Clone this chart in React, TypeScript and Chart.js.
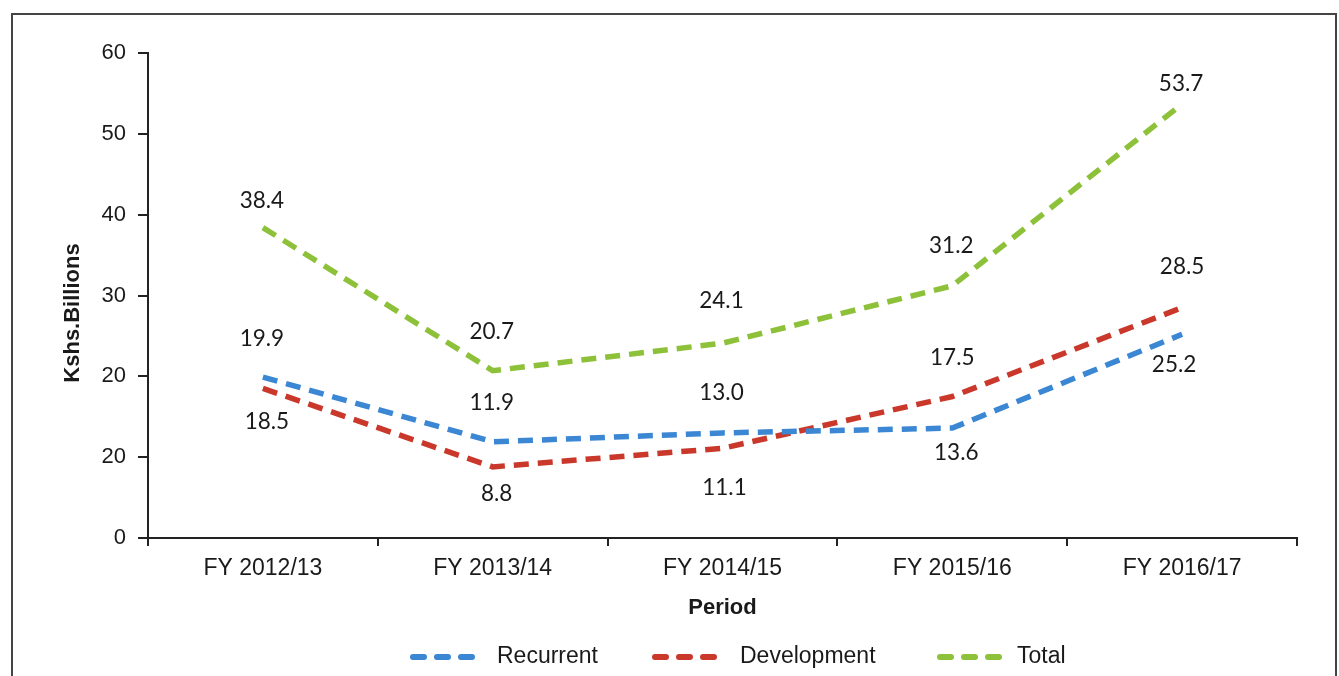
import React, { useEffect, useRef } from "react";
import { Chart, registerables } from "chart.js";

Chart.register(...registerables);

const categories = ["FY 2012/13", "FY 2013/14", "FY 2014/15", "FY 2015/16", "FY 2016/17"];
const recurrent = [19.9, 11.9, 13.0, 13.6, 25.2];
const development = [18.5, 8.8, 11.1, 17.5, 28.5];
const total = [38.4, 20.7, 24.1, 31.2, 53.7];
const yTickLabels = ["0", "20", "20", "30", "40", "50", "60"];

const BLUE = "#3B87D4";
const RED = "#C9382A";
const GREEN = "#8EC13A";
const TEXT = "#1a1a1a";
const AXIS = "#222222";

const decorPlugin = {
  id: "decor",
  beforeDraw(chart: any) {
    const ctx = chart.ctx;
    ctx.save();
    ctx.fillStyle = "#ffffff";
    ctx.fillRect(0, 0, chart.width, chart.height);
    ctx.strokeStyle = "#444444";
    ctx.lineWidth = 2;
    ctx.beginPath();
    ctx.moveTo(12, chart.height + 5);
    ctx.lineTo(12, 14);
    ctx.lineTo(1336, 14);
    ctx.lineTo(1336, chart.height + 5);
    ctx.stroke();
    ctx.restore();
  },
  afterDatasetsDraw(chart: any) {
    const ctx = chart.ctx;
    ctx.save();
    ctx.font = "22.5px Lato, 'Open Sans', sans-serif";
    ctx.fillStyle = TEXT;
    ctx.textAlign = "center";
    ctx.textBaseline = "middle";
    chart.data.datasets.forEach((ds: any, di: number) => {
      const meta = chart.getDatasetMeta(di);
      meta.data.forEach((pt: any, i: number) => {
        const off = ds.labelOffsets[i];
        const v = ds.data[i] as number;
        ctx.fillText(v.toFixed(1), pt.x + off[0], pt.y + off[1]);
      });
    });
    ctx.restore();
  },
  afterDraw(chart: any) {
    const ctx = chart.ctx;
    const area = chart.chartArea;
    ctx.save();
    ctx.fillStyle = TEXT;
    ctx.font = "bold 22px 'Liberation Sans', Arial, sans-serif";
    ctx.textAlign = "center";
    ctx.textBaseline = "middle";
    ctx.fillText("Period", (area.left + area.right) / 2, 608);
    ctx.save();
    ctx.translate(73, 313);
    ctx.rotate(-Math.PI / 2);
    ctx.fillText("Kshs.Billions", 0, 0);
    ctx.restore();

    // legend
    const items = [
      { x: 410, tx: 497 },
      { x: 652, tx: 740 },
      { x: 937, tx: 1017 },
    ];
    const ly = 657;
    chart.data.datasets.forEach((ds: any, i: number) => {
      const it = items[i];
      ctx.strokeStyle = ds.borderColor;
      ctx.lineWidth = 6;
      ctx.lineCap = "round";
      ctx.setLineDash([11, 13]);
      ctx.beginPath();
      ctx.moveTo(it.x + 3, ly);
      ctx.lineTo(it.x + 63, ly);
      ctx.stroke();
      ctx.setLineDash([]);
      ctx.fillStyle = TEXT;
      ctx.font = "23px 'Liberation Sans', Arial, sans-serif";
      ctx.textAlign = "left";
      ctx.textBaseline = "middle";
      ctx.fillText(ds.label, it.tx, ly);
    });
    ctx.restore();
  },
};

export default function App() {
  const ref = useRef<HTMLCanvasElement | null>(null);
  useEffect(() => {
    if (!ref.current) return;
    const common = {
      fill: false,
      tension: 0,
      pointRadius: 0,
      pointHoverRadius: 0,
      borderWidth: 5.5,
      borderDash: [15, 9],
      borderCapStyle: "butt" as const,
    };
    const chart = new Chart(ref.current, {
      type: "line",
      data: {
        labels: categories,
        datasets: [
          {
            ...common,
            label: "Recurrent",
            data: recurrent,
            borderColor: BLUE,
            backgroundColor: BLUE,
            labelOffsets: [[-1, -38], [-1, -39], [-1, -40], [4, 25], [-8, 30]],
          } as any,
          {
            ...common,
            label: "Development",
            data: development,
            borderColor: RED,
            backgroundColor: RED,
            labelOffsets: [[4, 33], [4, 27], [2, 39], [0, -39], [0, -41]],
          } as any,
          {
            ...common,
            label: "Total",
            data: total,
            borderColor: GREEN,
            backgroundColor: GREEN,
            labelOffsets: [[-1, -27], [-1, -39], [-1, -42], [-1, -40], [-1, -20]],
          } as any,
        ],
      },
      options: {
        responsive: false,
        animation: false,
        layout: { padding: { top: 53, right: 42, left: 0, bottom: 0 } },
        plugins: {
          legend: { display: false },
          title: { display: false },
          tooltip: { enabled: false },
        },
        scales: {
          x: {
            type: "category",
            offset: true,
            grid: {
              offset: true,
              drawOnChartArea: false,
              drawTicks: true,
              tickLength: 8,
              color: AXIS,
              lineWidth: 2,
            },
            border: { display: true, color: AXIS, width: 2 },
            ticks: {
              color: TEXT,
              padding: 9,
              maxRotation: 0,
              autoSkip: false,
              font: { family: "'Liberation Sans', Arial, sans-serif", size: 23 },
            },
            afterFit: (scale: any) => {
              scale.height = 138;
            },
          },
          y: {
            min: 0,
            max: 60,
            grid: {
              drawOnChartArea: false,
              drawTicks: true,
              tickLength: 10,
              color: AXIS,
              lineWidth: 2,
            },
            border: { display: true, color: AXIS, width: 2 },
            ticks: {
              stepSize: 10,
              color: TEXT,
              padding: 12,
              font: { family: "'Liberation Sans', Arial, sans-serif", size: 22 },
              callback: (_v: any, i: number) => yTickLabels[i],
            },
            afterFit: (scale: any) => {
              scale.width = 148;
            },
          },
        },
      },
      plugins: [decorPlugin],
    });
    return () => chart.destroy();
  }, []);
  return (
    <div style={{ position: "absolute", left: 0, top: 0, width: 1339, height: 676 }}>
      <canvas ref={ref} width={1339} height={676} style={{ width: 1339, height: 676, display: "block" }} />
    </div>
  );
}
